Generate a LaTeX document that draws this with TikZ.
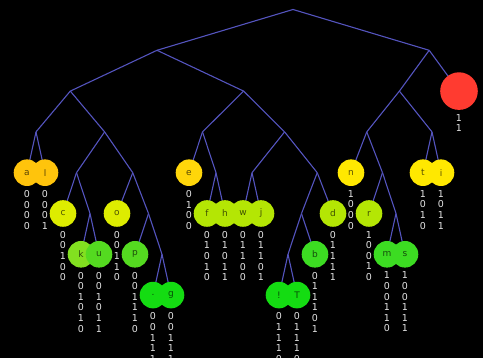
\documentclass[tikz,border=0pt]{standalone}
\usepackage{fontspec}
\setmainfont{DejaVu Sans}
\definecolor{hfedge}{RGB}{84,84,190}
\definecolor{hfred}{RGB}{255,59,48}
\definecolor{hfgold}{RGB}{255,196,12}
\definecolor{hfamber}{RGB}{255,214,10}
\definecolor{hfyellow}{RGB}{255,232,0}
\definecolor{hflime}{RGB}{221,236,0}
\definecolor{hfchart}{RGB}{180,230,4}
\definecolor{hfgreenA}{RGB}{130,224,32}
\definecolor{hfgreenB}{RGB}{84,218,32}
\definecolor{hfgreenC}{RGB}{60,220,34}
\definecolor{hfgreenD}{RGB}{20,220,18}
\definecolor{hfcode}{RGB}{228,228,228}
\usetikzlibrary{positioning}

\begin{document}
\begin{tikzpicture}[
  x=1pt,y=-1pt,
  leaf/.style={circle,inner sep=0pt,minimum size=26.6pt,
    font=\fontsize{9}{10}\selectfont,text=black,text opacity=0.65},
  code/.style={inner sep=0pt,align=center,text=hfcode,
    font=\fontsize{9.5}{10.6}\selectfont},
  edge/.style={hfedge,line width=1.1pt}
]
  % background
  \fill[black] (0,0) rectangle (483,358);
  \useasboundingbox (0,0) rectangle (483,358);
  % inner nodes, one row per depth
  \coordinate (root) at (293,9.5);
  \coordinate (n0) at (157,50.3);
  \coordinate (n1) at (429.2,50.3);
  \coordinate (n00) at (70.3,91.1);
  \coordinate (n01) at (243.6,91.1);
  \coordinate (n10) at (399.4,91.1);
  \coordinate (n000) at (36,131.9);
  \coordinate (n001) at (104.6,131.9);
  \coordinate (n010) at (202.5,131.9);
  \coordinate (n011) at (284.6,131.9);
  \coordinate (n100) at (366.75,131.9);
  \coordinate (n101) at (432,131.9);
  \coordinate (n0010) at (76.5,172.7);
  \coordinate (n0011) at (132.75,172.7);
  \coordinate (n0101) at (216,172.7);
  \coordinate (n0110) at (252,172.7);
  \coordinate (n0111) at (317.25,172.7);
  \coordinate (n1001) at (382.5,172.7);
  \coordinate (n00101) at (90,213.5);
  \coordinate (n00111) at (148.5,213.5);
  \coordinate (n01110) at (301.5,213.5);
  \coordinate (n10011) at (396,213.5);
  \coordinate (n001111) at (162,254.3);
  \coordinate (n011100) at (288,254.3);
  % leaves
  \coordinate (Pspace) at (459,91.1);
  \coordinate (Pa) at (27,172.7);
  \coordinate (Pl) at (45,172.7);
  \coordinate (Pe) at (189,172.7);
  \coordinate (Pn) at (351,172.7);
  \coordinate (Pt) at (423,172.7);
  \coordinate (Pi) at (441,172.7);
  \coordinate (Pc) at (63,213.5);
  \coordinate (Po) at (117,213.5);
  \coordinate (Pf) at (207,213.5);
  \coordinate (Ph) at (225,213.5);
  \coordinate (Pw) at (243,213.5);
  \coordinate (Pj) at (261,213.5);
  \coordinate (Pd) at (333,213.5);
  \coordinate (Pr) at (369,213.5);
  \coordinate (Pk) at (81,254.3);
  \coordinate (Pu) at (99,254.3);
  \coordinate (Pp) at (135,254.3);
  \coordinate (Pb) at (315,254.3);
  \coordinate (Pm) at (387,254.3);
  \coordinate (Ps) at (405,254.3);
  \coordinate (Pdot) at (153,295.1);
  \coordinate (Pg) at (171,295.1);
  \coordinate (Pexcl) at (279,295.1);
  \coordinate (PT) at (297,295.1);
  % branches
  \foreach \p/\c in {root/n0,root/n1,n0/n00,n0/n01,n1/n10,n1/Pspace,
      n00/n000,n00/n001,n01/n010,n01/n011,n10/n100,n10/n101,
      n000/Pa,n000/Pl,n001/n0010,n001/n0011,n010/Pe,n010/n0101,
      n011/n0110,n011/n0111,n100/Pn,n100/n1001,n101/Pt,n101/Pi,
      n0010/Pc,n0010/n00101,n0011/Po,n0011/n00111,n0101/Pf,n0101/Ph,
      n0110/Pw,n0110/Pj,n0111/n01110,n0111/Pd,n1001/Pr,n1001/n10011,
      n00101/Pk,n00101/Pu,n00111/Pp,n00111/n001111,n01110/n011100,
      n01110/Pb,n10011/Pm,n10011/Ps,n001111/Pdot,n001111/Pg,
      n011100/Pexcl,n011100/PT}
    \draw[edge] (\p) -- (\c);
  % leaf circles
  \node[leaf,fill=hfred,minimum size=37.6pt] (space) at (Pspace) {};
  \node[leaf,fill=hfgold] (a) at (Pa) {a};
  \node[leaf,fill=hfgold] (l) at (Pl) {l};
  \node[leaf,fill=hflime] (c) at (Pc) {c};
  \node[leaf,fill=hfgreenA] (k) at (Pk) {k};
  \node[leaf,fill=hfgreenB] (u) at (Pu) {u};
  \node[leaf,fill=hflime] (o) at (Po) {o};
  \node[leaf,fill=hfgreenB] (p) at (Pp) {p};
  \node[leaf,fill=hfgreenD] (dot) at (Pdot) {.};
  \node[leaf,fill=hfgreenD] (g) at (Pg) {g};
  \node[leaf,fill=hfamber] (e) at (Pe) {e};
  \node[leaf,fill=hfchart] (f) at (Pf) {f};
  \node[leaf,fill=hfchart] (h) at (Ph) {h};
  \node[leaf,fill=hfchart] (w) at (Pw) {w};
  \node[leaf,fill=hfchart] (j) at (Pj) {j};
  \node[leaf,fill=hfgreenD] (excl) at (Pexcl) {!};
  \node[leaf,fill=hfgreenD] (T) at (PT) {T};
  \node[leaf,fill=hfgreenC] (b) at (Pb) {b};
  \node[leaf,fill=hfchart] (d) at (Pd) {d};
  \node[leaf,fill=hfyellow] (n) at (Pn) {n};
  \node[leaf,fill=hfchart] (r) at (Pr) {r};
  \node[leaf,fill=hfgreenC] (m) at (Pm) {m};
  \node[leaf,fill=hfgreenC] (s) at (Ps) {s};
  \node[leaf,fill=hfyellow] (t) at (Pt) {t};
  \node[leaf,fill=hfyellow] (i) at (Pi) {i};
  % bit strings under the leaves
  \node[code,below=4pt of space] (cspace) {1\\1};
  \node[code,below=4pt of a] (ca) {0\\0\\0\\0};
  \node[code,below=4pt of l] (cl) {0\\0\\0\\1};
  \node[code,below=4pt of c] (cc) {0\\0\\1\\0\\0};
  \node[code,below=4pt of k] (ck) {0\\0\\1\\0\\1\\0};
  \node[code,below=4pt of u] (cu) {0\\0\\1\\0\\1\\1};
  \node[code,below=4pt of o] (co) {0\\0\\1\\1\\0};
  \node[code,below=4pt of p] (cp) {0\\0\\1\\1\\1\\0};
  \node[code,below=4pt of dot] (cdot) {0\\0\\1\\1\\1\\1\\0};
  \node[code,below=4pt of g] (cg) {0\\0\\1\\1\\1\\1\\1};
  \node[code,below=4pt of e] (ce) {0\\1\\0\\0};
  \node[code,below=4pt of f] (cf) {0\\1\\0\\1\\0};
  \node[code,below=4pt of h] (ch) {0\\1\\0\\1\\1};
  \node[code,below=4pt of w] (cw) {0\\1\\1\\0\\0};
  \node[code,below=4pt of j] (cj) {0\\1\\1\\0\\1};
  \node[code,below=4pt of excl] (cexcl) {0\\1\\1\\1\\0\\0\\0};
  \node[code,below=4pt of T] (cT) {0\\1\\1\\1\\0\\0\\1};
  \node[code,below=4pt of b] (cb) {0\\1\\1\\1\\0\\1};
  \node[code,below=4pt of d] (cd) {0\\1\\1\\1\\1};
  \node[code,below=4pt of n] (cn) {1\\0\\0\\0};
  \node[code,below=4pt of r] (cr) {1\\0\\0\\1\\0};
  \node[code,below=4pt of m] (cm) {1\\0\\0\\1\\1\\0};
  \node[code,below=4pt of s] (cs) {1\\0\\0\\1\\1\\1};
  \node[code,below=4pt of t] (ct) {1\\0\\1\\0};
  \node[code,below=4pt of i] (ci) {1\\0\\1\\1};
\end{tikzpicture}
\end{document}
